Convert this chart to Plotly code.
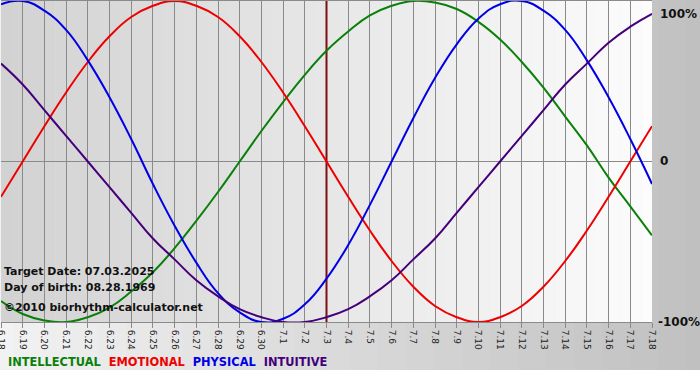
import plotly.graph_objects as go

days = ["6.18", "6.19", "6.20", "6.21", "6.22", "6.23", "6.24", "6.25", "6.26", "6.27",
        "6.28", "6.29", "6.30", "7.1", "7.2", "7.3", "7.4", "7.5", "7.6", "7.7",
        "7.8", "7.9", "7.10", "7.11", "7.12", "7.13", "7.14", "7.15", "7.16", "7.17", "7.18"]

physical = [0.98, 1.00, 0.94, 0.82, 0.63, 0.40, 0.14, -0.14, -0.40, -0.63,
            -0.82, -0.94, -1.00, -0.98, -0.89, -0.73, -0.52, -0.27, 0.00, 0.27,
            0.52, 0.73, 0.89, 0.98, 1.00, 0.94, 0.82, 0.63, 0.40, 0.14, -0.14]
emotional = [-0.22, 0.00, 0.22, 0.43, 0.62, 0.78, 0.90, 0.97, 1.00, 0.97,
             0.90, 0.78, 0.62, 0.43, 0.22, 0.00, -0.22, -0.43, -0.62, -0.78,
             -0.90, -0.97, -1.00, -0.97, -0.90, -0.78, -0.62, -0.43, -0.22, 0.00, 0.22]
intellectual = [-0.87, -0.95, -0.99, -1.00, -0.97, -0.91, -0.81, -0.69, -0.54, -0.37,
                -0.19, 0.00, 0.19, 0.37, 0.54, 0.69, 0.81, 0.91, 0.97, 1.00,
                0.99, 0.95, 0.87, 0.76, 0.62, 0.46, 0.28, 0.10, -0.10, -0.28, -0.46]
intuitive = [0.61, 0.48, 0.32, 0.16, 0.00, -0.16, -0.32, -0.48, -0.61, -0.74,
             -0.84, -0.92, -0.97, -1.00, -1.00, -0.97, -0.92, -0.84, -0.74, -0.61,
             -0.48, -0.32, -0.16, 0.00, 0.16, 0.32, 0.48, 0.61, 0.74, 0.84, 0.92]

target_day = "7.3"
info_lines = ["Target Date: 07.03.2025", "Day of birth: 08.28.1969", "©2010 biorhythm-calculator.net"]
y_labels = ["100%", "0", "-100%"]

series = [
    ("INTELLECTUAL", intellectual, "#0a800a"),
    ("EMOTIONAL", emotional, "#ee0000"),
    ("PHYSICAL", physical, "#0000e6"),
    ("INTUITIVE", intuitive, "#44007a"),
]

W, H = 700, 380
ML, MR, MT, MB = 1, 48, 1, 58
PW = W - ML - MR
PH = H - MT - MB

def px_to_paper_x(px):
    return (px - ML) / PW

def py_to_paper_y(py):
    return (H - MB - py) / PH

def grey(level):
    v = int(round(level))
    return f"rgb({v},{v},{v})"

fig = go.Figure()
# target-day marker line (drawn first so curves pass over it)
fig.add_trace(go.Scatter(x=[target_day, target_day], y=[-1, 1], mode="lines",
                         line=dict(color="#7a1010", width=2), showlegend=False, hoverinfo="skip"))
for name, vals, col in series:
    fig.add_trace(go.Scatter(x=days, y=vals, mode="lines", name=name,
                             line=dict(color=col, width=2, shape="spline", smoothing=1.3),
                             showlegend=False, hoverinfo="skip"))

shapes = []
n = 50
for i in range(n):
    px0 = W * i / n
    px1 = W * (i + 1) / n
    lvl = 242 - (242 - 192) * (i + 0.5) / n
    shapes.append(dict(type="rect", xref="paper", yref="paper",
                       x0=px_to_paper_x(px0), x1=px_to_paper_x(px1 + 0.5),
                       y0=py_to_paper_y(370), y1=py_to_paper_y(-2),
                       fillcolor=grey(lvl), line=dict(width=0), layer="below"))
m = 60
for i in range(m):
    x0 = 30 * i / m
    x1 = 30 * (i + 1) / m
    lvl = 210 - (210 - 252) * (i + 0.5) / m
    shapes.append(dict(type="rect", xref="x", yref="paper",
                       x0=x0, x1=x1 + 0.02, y0=0, y1=1,
                       fillcolor=grey(lvl), line=dict(width=0), layer="below"))

annotations = []
info_py = [271, 287, 307]
for txt, py in zip(info_lines, info_py):
    annotations.append(dict(text=txt, xref="paper", yref="paper", x=px_to_paper_x(2), y=py_to_paper_y(py),
                            xanchor="left", yanchor="middle", showarrow=False,
                            font=dict(family="DejaVu Sans", size=11, color="#111111", weight="bold")))
ylab_py = [14, 161, 322]
ylab_px = [658, 658, 656]
for txt, py, pxx in zip(y_labels, ylab_py, ylab_px):
    annotations.append(dict(text=txt, xref="paper", yref="paper", x=px_to_paper_x(pxx), y=py_to_paper_y(py),
                            xanchor="left", yanchor="middle", showarrow=False,
                            font=dict(family="DejaVu Sans", size=12, color="#111111", weight="bold")))
legend_html = "  ".join(f"<span style='color:{c}'>{n}</span>" for n, _, c in series)
annotations.append(dict(text=legend_html, xref="paper", yref="paper", x=px_to_paper_x(6), y=py_to_paper_y(362),
                        xanchor="left", yanchor="middle", showarrow=False,
                        font=dict(family="DejaVu Sans", size=11.4, weight="bold")))

fig.update_layout(
    width=W, height=H,
    margin=dict(l=ML, r=MR, t=MT, b=MB, pad=0, autoexpand=False),
    paper_bgcolor="white",
    plot_bgcolor="rgba(0,0,0,0)",
    shapes=shapes,
    annotations=annotations,
    xaxis=dict(type="category", categoryorder="array", categoryarray=days,
               range=[0, 30], tickmode="linear", tick0=0, dtick=1,
               automargin=False,
               showgrid=True, gridcolor="#8a8a8a", gridwidth=1,
               ticks="outside", ticklen=5, tickcolor="#8a8a8a", tickangle=90,
               tickfont=dict(family="DejaVu Sans", size=9, color="#222222"),
               showline=True, linecolor="#8a8a8a", linewidth=1, mirror=True,
               zeroline=False, fixedrange=True),
    yaxis=dict(range=[-1, 1], showgrid=False, showticklabels=False, ticks="",
               automargin=False,
               zeroline=True, zerolinecolor="#8a8a8a", zerolinewidth=1,
               showline=False, fixedrange=True),
)

fig.write_html("out.html")
